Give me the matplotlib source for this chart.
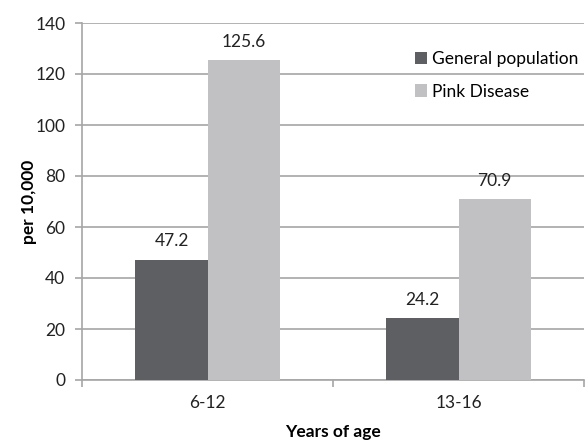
import matplotlib
matplotlib.use("Agg")
import matplotlib.pyplot as plt
import numpy as np

categories = ["6-12", "13-16"]
series_names = ["General population", "Pink Disease"]
general = [47.2, 24.2]
pink = [125.6, 70.9]
yticks = [0, 20, 40, 60, 80, 100, 120, 140]

plt.rcParams['font.family'] = ['Lato', 'DejaVu Sans']
FS = 12.5

fig = plt.figure(figsize=(5.85, 4.41), dpi=100)
ax = fig.add_axes([82/585, 1 - 380/441, (584-82)/585, (380-23)/441])

x = np.arange(len(categories))
w = 0.287
c_dark = "#5e5f63"
c_light = "#c1c1c3"
b1 = ax.bar(x - w/2, general, w, color=c_dark, label=series_names[0], zorder=3)
b2 = ax.bar(x + w/2, pink, w, color=c_light, label=series_names[1], zorder=3)

for bars, vals in ((b1, general), (b2, pink)):
    for r, v in zip(bars, vals):
        ax.text(r.get_x() + r.get_width()/2, v + 4, f"{v:.1f}", ha="center",
                va="bottom", fontsize=FS, color="#222222")

ax.set_xlim(-0.5, len(categories) - 0.5)
ax.set_ylim(0, 140)
ax.set_yticks(yticks)
ax.set_yticklabels([str(t) for t in yticks], fontsize=FS, color="#222222")
ax.yaxis.grid(True, color="#a6a6a6", linewidth=1.2, zorder=0)
ax.set_axisbelow(True)

ax.set_xticks(x)
ax.set_xticklabels(categories, fontsize=FS, color="#222222")
ax.tick_params(axis="x", length=0, pad=11)
ax.set_xticks(np.arange(len(categories) + 1) - 0.5, minor=True)
ax.tick_params(axis="x", which="minor", length=5, color="#a6a6a6", width=1.2)
ax.tick_params(axis="y", length=5, color="#a6a6a6", width=1.2, pad=7)

for s in ["top", "right"]:
    ax.spines[s].set_visible(False)
for s in ["left", "bottom"]:
    ax.spines[s].set_color("#a6a6a6")
    ax.spines[s].set_linewidth(1.2)

ax.set_ylabel("per 10,000", fontsize=FS, fontweight="bold", labelpad=-1)
ax.set_xlabel("Years of age", fontsize=FS, fontweight="bold", labelpad=9)

leg = ax.legend(loc="upper right", bbox_to_anchor=(1.02, 0.965), frameon=False,
                fontsize=FS, handlelength=0.7, handleheight=0.7,
                handletextpad=0.3, labelspacing=0.95)

fig.savefig("out.png", dpi=100)
